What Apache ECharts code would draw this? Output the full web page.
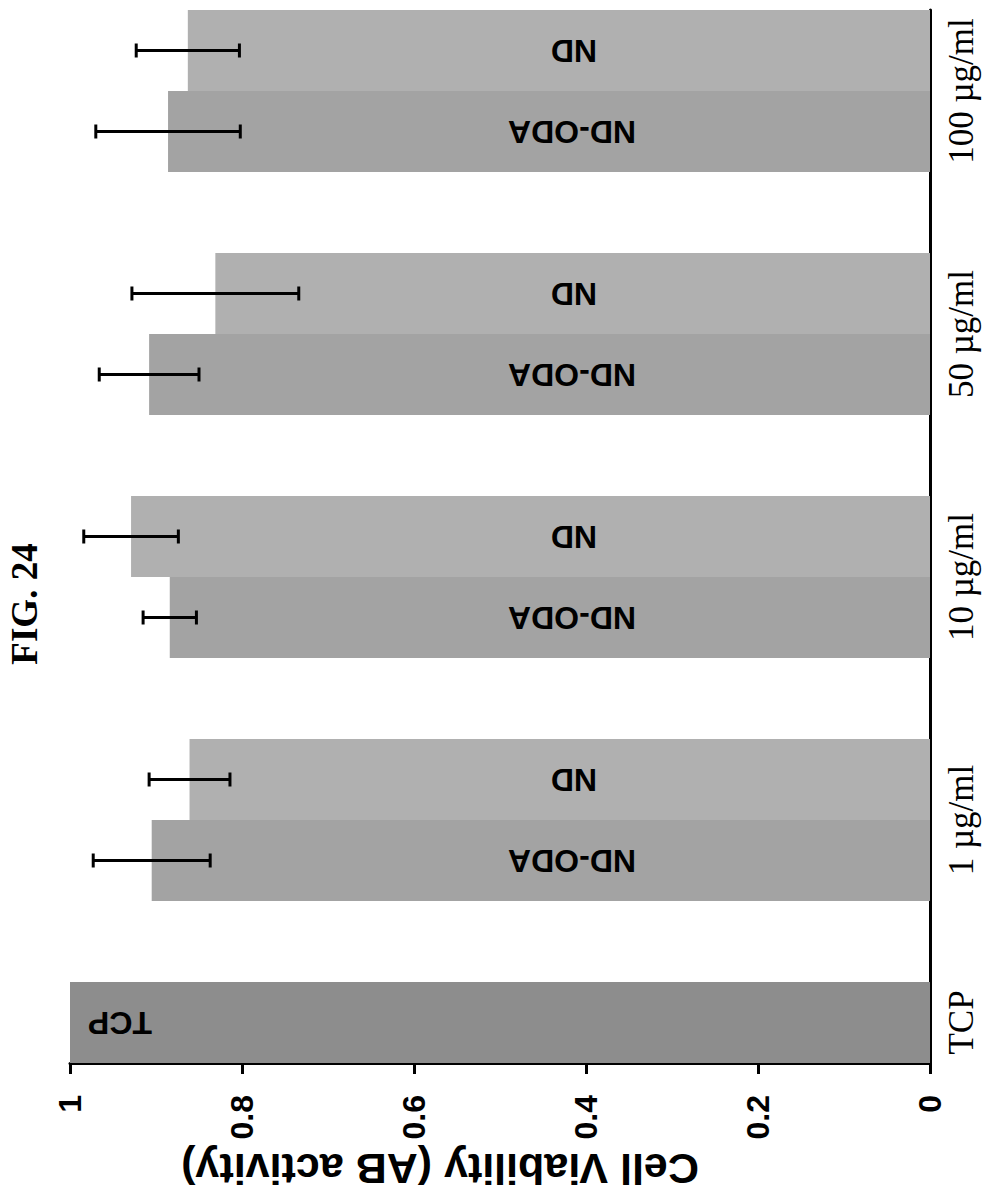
<!DOCTYPE html>
<html>
<head>
<meta charset="utf-8">
<script src="https://cdn.jsdelivr.net/npm/echarts@6/dist/echarts.min.js"></script>
<style>
  html, body { margin: 0; padding: 0; background: #fff; }
  #chart { width: 988px; height: 1199px; }
</style>
</head>
<body>
<div id="chart"></div>
<script>
// groups along the category axis (TCP first, then concentrations)
const categories = ['TCP', '1 µg/ml', '10 µg/ml', '50 µg/ml', '100 µg/ml']
const tcpValue = 1.0
const ndOda = [0.905, 0.884, 0.908, 0.886]
const ndOdaSd = [0.068, 0.031, 0.058, 0.084]
const nd = [0.861, 0.929, 0.831, 0.863]
const ndSd = [0.047, 0.055, 0.097, 0.060]
const valueTicks = [0, 0.2, 0.4, 0.6, 0.8, 1]

// slot layout: TCP, gap, then [ND-ODA, ND, gap] per concentration
const slotIds = []
const slotLabels = []
const tcpData = []
const ndOdaData = []
const ndData = []
const errData = []

function addSlot (label, tcp, a, b) {
  slotIds.push('s' + slotIds.length)
  slotLabels.push(label)
  tcpData.push(tcp)
  ndOdaData.push(a)
  ndData.push(b)
}

addSlot('TCP', tcpValue, '-', '-')
categories.slice(1).forEach((c, i) => {
  addSlot('', '-', '-', '-')
  errData.push([slotIds.length, ndOda[i], ndOdaSd[i]])
  addSlot('{g|' + c + '}', '-', ndOda[i], '-')
  errData.push([slotIds.length, nd[i], ndSd[i]])
  addSlot('', '-', '-', nd[i])
})

const sans = 'Liberation Sans'
const serif = 'Liberation Serif'

const barLabel = (dist, pos) => ({
  show: true,
  position: pos,
  distance: dist,
  align: 'center',
  verticalAlign: 'middle',
  rotate: 180,
  formatter: '{a}',
  fontFamily: sans,
  fontWeight: 'bold',
  fontSize: 32,
  color: '#000'
})

const myChart = echarts.init(document.getElementById('chart'), null, { renderer: 'svg' })

myChart.setOption({
  animation: false,
  grid: {
    left: 70,
    right: 58,
    top: 10,
    bottom: 136,
    containLabel: false,
    outerBoundsMode: 'none'
  },
  graphic: [
    {
      type: 'text',
      x: 24,
      y: 604,
      rotation: Math.PI / 2,
      style: {
        text: 'FIG. 24',
        fontFamily: serif,
        fontWeight: 'bold',
        fontSize: 37,
        fill: '#000',
        align: 'center',
        verticalAlign: 'middle'
      }
    }
  ],
  xAxis: {
    type: 'value',
    inverse: true,
    min: 0,
    max: 1,
    interval: 0.2,
    position: 'bottom',
    name: 'Cell Viability (AB activity)',
    nameLocation: 'middle',
    nameRotate: 180,
    nameGap: 80,
    nameTextStyle: {
      fontFamily: sans,
      fontWeight: 'bold',
      fontSize: 43,
      color: '#000',
      padding: [0, 0, 0, 120]
    },
    axisLine: { show: true, lineStyle: { color: '#000', width: 3 } },
    axisTick: { show: true, length: 11, lineStyle: { color: '#000', width: 3 } },
    axisLabel: {
      rotate: 90,
      margin: 32,
      fontFamily: sans,
      fontWeight: 'bold',
      fontSize: 32,
      color: '#000',
      formatter: v => (valueTicks.includes(+v.toFixed(1)) ? String(+v.toFixed(1)) : '')
    },
    splitLine: { show: false }
  },
  yAxis: {
    type: 'category',
    position: 'right',
    data: slotIds,
    axisLine: { show: true, lineStyle: { color: '#000', width: 3 } },
    axisTick: { show: false },
    axisLabel: {
      interval: 0,
      rotate: 90,
      margin: 14,
      fontFamily: serif,
      fontSize: 35,
      color: '#000',
      formatter: (v, i) => slotLabels[i],
      rich: {
        g: {
          fontFamily: serif,
          fontSize: 35,
          color: '#000',
          padding: [0, 0, 0, 81]
        }
      }
    }
  },
  series: [
    {
      name: 'TCP',
      type: 'bar',
      stack: 'all',
      barCategoryGap: '0%',
      itemStyle: { color: '#8d8d8d' },
      label: barLabel(50, 'insideLeft'),
      data: tcpData
    },
    {
      name: 'ND-ODA',
      type: 'bar',
      stack: 'all',
      barCategoryGap: '0%',
      itemStyle: { color: '#a3a3a3' },
      label: barLabel(358, 'insideRight'),
      data: ndOdaData
    },
    {
      name: 'ND',
      type: 'bar',
      stack: 'all',
      barCategoryGap: '0%',
      itemStyle: { color: '#b0b0b0' },
      label: barLabel(356, 'insideRight'),
      data: ndData
    },
    {
      name: 'SD',
      type: 'custom',
      z: 10,
      encode: { x: 1, y: 0 },
      renderItem (params, api) {
        const slot = api.value(0)
        const mean = api.value(1)
        const sd = api.value(2)
        const hi = api.coord([mean + sd, slot])
        const lo = api.coord([mean - sd, slot])
        const h = 7
        const style = { stroke: '#000', lineWidth: 3 }
        return {
          type: 'group',
          children: [
            { type: 'line', shape: { x1: lo[0], y1: lo[1], x2: hi[0], y2: hi[1] }, style },
            { type: 'line', shape: { x1: hi[0], y1: hi[1] - h, x2: hi[0], y2: hi[1] + h }, style },
            { type: 'line', shape: { x1: lo[0], y1: lo[1] - h, x2: lo[0], y2: lo[1] + h }, style }
          ]
        }
      },
      data: errData
    }
  ]
})
</script>
</body>
</html>
